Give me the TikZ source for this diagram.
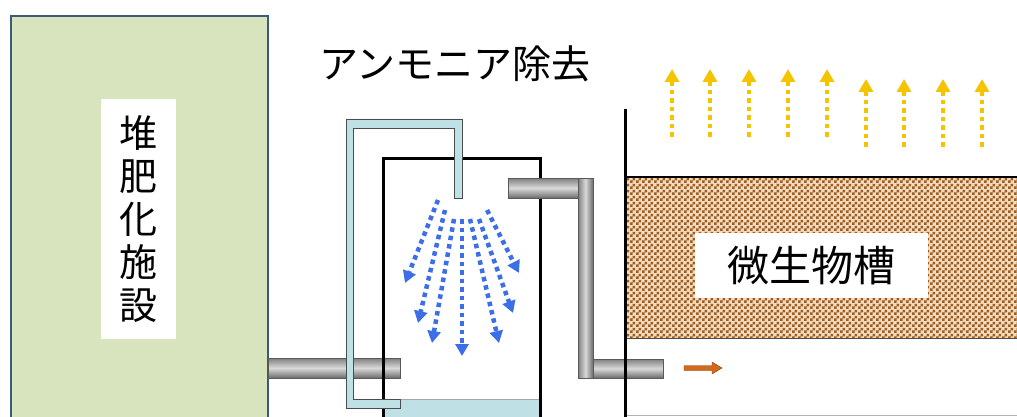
\documentclass[tikz,border=0pt]{standalone}
\usepackage{fontspec}
\newfontfamily\jp{Noto Sans CJK JP}
\usetikzlibrary{arrows.meta,patterns}

\definecolor{compost}{HTML}{D7E4BD}
\definecolor{compostedge}{HTML}{3A5A7A}
\definecolor{water}{HTML}{BFE0E4}
\definecolor{spraycol}{HTML}{3C6EE8}
\definecolor{vapourcol}{HTML}{F5C400}
\definecolor{bedcream}{HTML}{F0DCC0}
\definecolor{bedbrown}{HTML}{A05C1E}
\definecolor{flowcol}{HTML}{D2691E}

% small checker for the microbial bed
\pgfdeclarepatternformonly{bedcheck}{\pgfpointorigin}{\pgfqpoint{6pt}{6pt}}{\pgfqpoint{6pt}{6pt}}{
  \pgfpathrectangle{\pgfpointorigin}{\pgfqpoint{3pt}{3pt}}
  \pgfpathrectangle{\pgfqpoint{3pt}{3pt}}{\pgfqpoint{3pt}{3pt}}
  \pgfusepath{fill}}

\begin{document}
\begin{tikzpicture}[x=1pt, y=-1pt, >=Stealth,
  pipe/.style={draw=gray!70!black, thin, top color=gray, bottom color=gray!85!black, middle color=gray!30},
  vpipe/.style={draw=gray!70!black, thin, left color=gray, right color=gray!85!black, middle color=gray!30},
  wall/.style={line width=3pt, black},
  labelbox/.style={fill=white, inner sep=0pt},
  spray/.style={line width=4.5pt, dash pattern=on 4.5pt off 4pt, spraycol, -{Triangle[width=13pt,length=12pt]}},
  vapour/.style={line width=4.5pt, dash pattern=on 4.5pt off 4pt, vapourcol, -{Triangle[width=14pt,length=13pt]}}]
  \useasboundingbox (0,0) rectangle (1017,417);
  \clip (0,0) rectangle (1017,417);

  % composting facility
  \draw[compostedge, fill=compost, line width=2.5pt] (11,16) rectangle (268,440);
  \node[labelbox, minimum width=75pt, minimum height=240pt, align=center,
        font=\jp\fontsize{38}{43}\selectfont] (facility) at (138.5,219) {堆\\肥\\化\\施\\設};

  % gas pipe into the scrubber
  \draw[pipe] (268,358) rectangle (400,378);

  % scrubber tank with water at the bottom
  \fill[water] (383,399) rectangle (540,430);
  \draw[gray!70, thin] (383,399) -- (540,399);
  \draw[wall] (383,430) -- (383,158) -- (540,158) -- (540,430);

  % circulation pipe
  \draw[fill=water, draw=gray!60!black, thin]
    (346,408) -- (346,119) -- (462,119) -- (462,198) -- (454,198) -- (454,128)
    -- (353,128) -- (353,399) -- (400,399) -- (400,408) -- cycle;

  % water spray
  \foreach \sx/\sy/\ex/\ey in {438/200/405/283, 445/210/418/323, 454/219/432/343,
      462/219/462/356, 470/219/499/343, 479/219/513/313, 487/210/519/273}
    \draw[spray] (\sx,\sy) -- (\ex,\ey);

  \node[font=\jp\fontsize{39}{40}\selectfont] (title) at (455,64) {アンモニア除去};

  % pipe to the microbial tank
  \draw[pipe] (508,178) rectangle (578,198);
  \draw[vpipe] (578,178) rectangle (593,378);
  \draw[pipe] (593,359) rectangle (663,378);

  % microbial tank
  \fill[bedcream] (626,177) rectangle (1017,338);
  \fill[pattern=bedcheck, pattern color=bedbrown] (626,177) rectangle (1017,338);
  \draw[line width=2pt] (625,177) -- (1017,177);
  \draw[gray!60!black, thin] (625,338) -- (1017,338);
  \draw[gray!60, thin] (625,415.5) -- (1017,415.5);
  \draw[wall] (625,109) -- (625,430);
  \node[labelbox, minimum width=233pt, minimum height=65pt,
        font=\jp\fontsize{42}{44}\selectfont] (bed) at (811.5,265.5) {微生物槽};

  % air flow
  \draw[fill=flowcol, draw=flowcol!60!black, thin]
    (684,365.5) -- (712,365.5) -- (712,362) -- (722,368) -- (712,374) -- (712,370.5) -- (684,370.5) -- cycle;

  % released air
  \foreach \x in {672,710,749,788,827}
    \draw[vapour] (\x,137) -- (\x,69);
  \foreach \x in {866,904,943,982}
    \draw[vapour] (\x,147) -- (\x,79);
\end{tikzpicture}
\end{document}
